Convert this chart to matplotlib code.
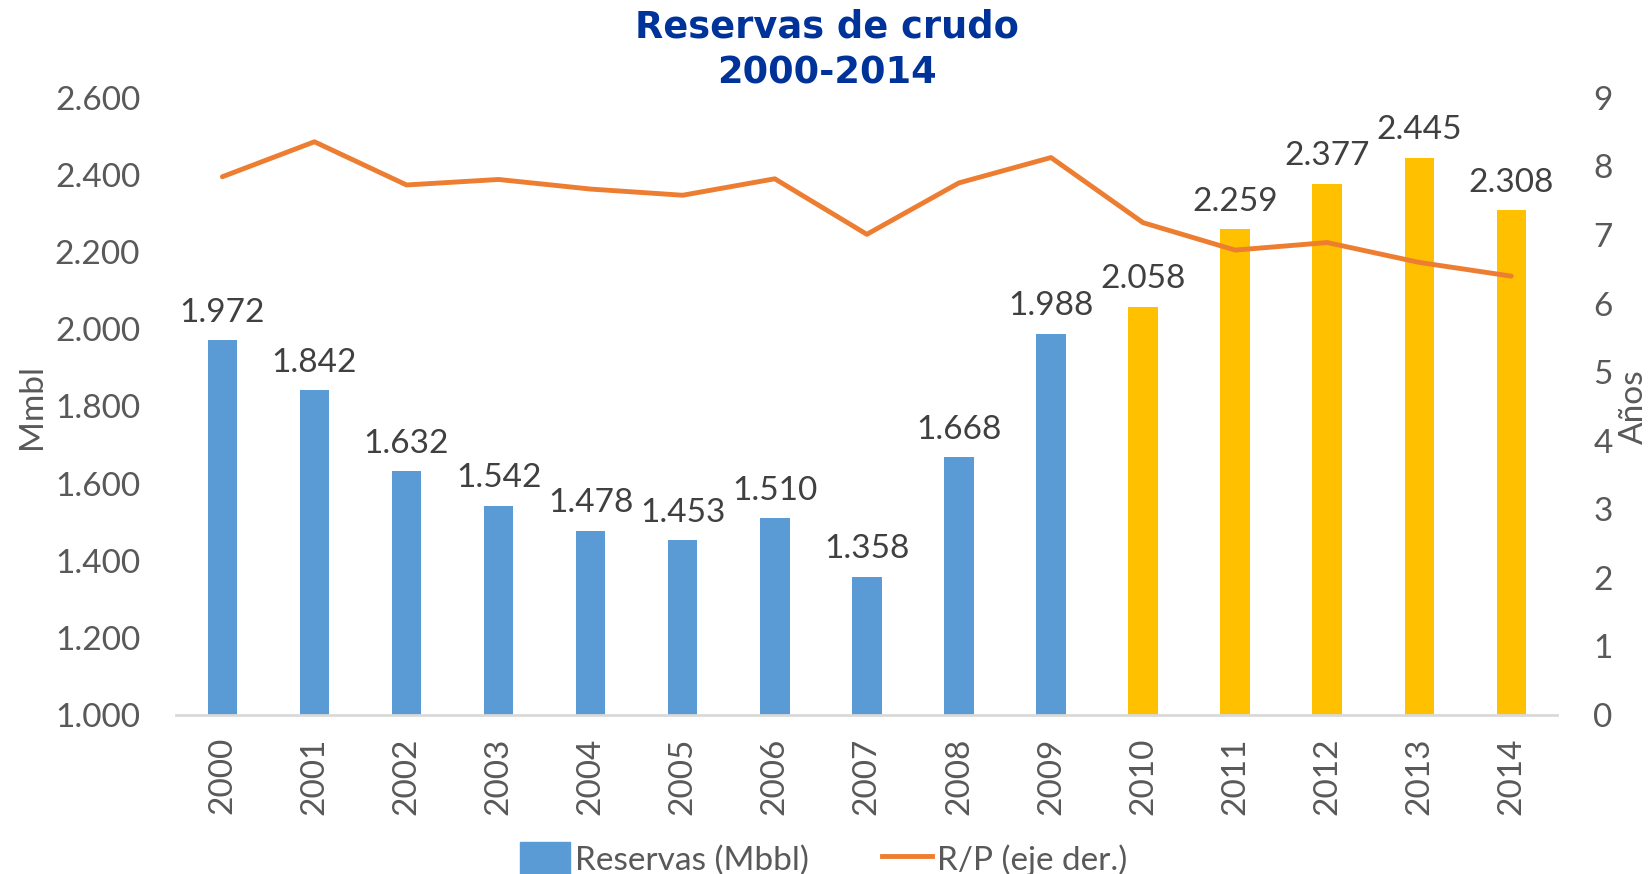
import matplotlib.pyplot as plt
from matplotlib.patches import Patch
from matplotlib.lines import Line2D
from matplotlib.ticker import FuncFormatter

# data
years = ["2000", "2001", "2002", "2003", "2004", "2005", "2006", "2007",
         "2008", "2009", "2010", "2011", "2012", "2013", "2014"]
reservas = [1972, 1842, 1632, 1542, 1478, 1453, 1510, 1358,
            1668, 1988, 2058, 2259, 2377, 2445, 2308]
rp = [7.85, 8.36, 7.73, 7.81, 7.67, 7.58, 7.82, 7.01,
      7.76, 8.13, 7.18, 6.78, 6.89, 6.60, 6.40]

BLUE = "#5B9BD5"
YELLOW = "#FFC000"
ORANGE = "#ED7D31"
GREY_TXT = "#595959"

plt.rcParams["font.family"] = ["Lato", "DejaVu Sans"]

fig = plt.figure(figsize=(16.48, 8.74), dpi=100)
ax = fig.add_axes([0.107, 0.182, 0.838, 0.706])

x = list(range(len(years)))
colors = [BLUE if int(y) < 2010 else YELLOW for y in years]
ax.bar(x, reservas, width=0.32, color=colors, zorder=2)

for xi, v in zip(x, reservas):
    ax.annotate(f"{v:,}".replace(",", "."), (xi, v), xytext=(0, 9),
                textcoords="offset points", ha="center", va="bottom",
                fontsize=24, color="#404040")

ax.set_xlim(-0.5, len(years) - 0.5)
ax.set_ylim(1000, 2600)
ax.set_yticks(range(1000, 2601, 200))
ax.yaxis.set_major_formatter(FuncFormatter(lambda v, p: f"{v:,.0f}".replace(",", ".")))
ax.set_xticks(x)
ax.set_xticklabels(years, rotation=90)

for s in ["top", "left", "right"]:
    ax.spines[s].set_visible(False)
ax.spines["bottom"].set_color("#D9D9D9")
ax.spines["bottom"].set_linewidth(2)
ax.tick_params(axis="y", length=0, pad=26, labelsize=24, labelcolor=GREY_TXT)
ax.tick_params(axis="x", length=0, pad=16, labelsize=24, labelcolor=GREY_TXT)
ax.set_ylabel("Mmbl", fontsize=24, color=GREY_TXT, labelpad=6)

ax2 = ax.twinx()
ax2.plot(x, rp, color=ORANGE, linewidth=3.5, solid_capstyle="round", zorder=3)
ax2.set_ylim(0, 9)
ax2.set_yticks(range(0, 10))
for s in ["top", "left", "right", "bottom"]:
    ax2.spines[s].set_visible(False)
ax2.tick_params(axis="y", length=0, pad=26, labelsize=24, labelcolor=GREY_TXT)
ax2.set_ylabel("Años", fontsize=24, color=GREY_TXT, rotation=90, labelpad=4)

fig.text(0.502, 0.99, "Reservas de crudo\n2000-2014", ha="center", va="top",
         fontsize=26.5, fontweight="bold", color="#003399",
         family=["DejaVu Sans"], linespacing=1.3)

handles = [Patch(color=BLUE), Line2D([0], [0], color=ORANGE, linewidth=3.5)]
fig.legend(handles, ["Reservas (Mbbl)", "R/P (eje der.)"], loc="center",
           bbox_to_anchor=(0.5, 0.017), ncol=2, frameon=False, fontsize=24,
           handlelength=1.5, handleheight=1.1, handletextpad=0.15,
           columnspacing=2.2, labelcolor=GREY_TXT)

plt.savefig("out.png", dpi=100)
